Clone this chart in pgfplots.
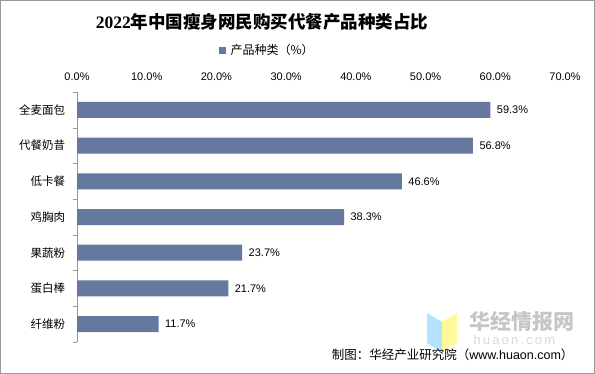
\documentclass[border=0pt]{standalone}
\usepackage{pgfplots}
\pgfplotsset{compat=1.18}
\usepackage{fontspec}
\setmainfont{Liberation Sans}
\newfontfamily\cjk{Noto Sans CJK SC}
\newfontfamily\serifnum{Liberation Serif}
\definecolor{barc}{RGB}{100,120,160}
\begin{document}
\begin{tikzpicture}
\path[use as bounding box] (0bp,0bp) rectangle (595bp,374bp);
\draw[gray!80, line width=1bp] (0.5bp,0.5bp) rectangle (594.5bp,373.5bp);
% watermark
\fill[blue!35!cyan!30] (427bp,61bp) -- (442bp,52bp) -- (442bp,22bp) -- (427bp,31bp) -- cycle;
\fill[yellow!40] (442bp,52bp) -- (457bp,61bp) -- (457bp,31bp) -- (442bp,22bp) -- cycle;
\node[text=gray!45, font=\cjk\bfseries\fontsize{21bp}{24bp}\selectfont, anchor=west] at (466bp,53bp) {华经情报网};
\node[text=gray!30, font=\fontsize{13bp}{15bp}\selectfont, anchor=west] at (470bp,34bp) {h\,u\,a\,o\,n\,.\,c\,o\,m};
\node[font=\fontsize{12.5bp}{15bp}\selectfont, anchor=east] at (577bp,19bp) {{\cjk 制图：华经产业研究院（}www.huaon.com{\cjk ）}};
% title
\node[font=\fontsize{17.5bp}{20bp}\selectfont] at (262bp,352bp) {{\serifnum\bfseries 2022}{\cjk\bfseries 年中国瘦身网民购买代餐产品种类占比}};
% legend
\fill[barc] (219bp,320bp) rectangle (226bp,327bp);
\node[font=\cjk\fontsize{12bp}{14bp}\selectfont, anchor=west] at (227bp,324bp) {产品种类（\%）};
\begin{axis}[
  at={(77bp,32bp)}, anchor=south west,
  scale only axis, width=488bp, height=250bp,
  xbar, bar width=16bp,
  xmin=0, xmax=70, ymin=-0.5, ymax=6.5,
  y dir=reverse,
  axis x line*=top, axis y line*=left,
  x axis line style={draw=none},
  y axis line style={draw=gray!80},
  xtick={0,10,...,70},
  xticklabel={\pgfmathprintnumber[fixed,fixed zerofill,precision=1]{\tick}\%},
  /pgf/number format/assume math mode=true,
  xticklabel style={font=\fontsize{11bp}{13bp}\selectfont, yshift=4bp},
  major x tick style={draw=none},
  ytick={0,...,6},
  yticklabels={全麦面包,代餐奶昔,低卡餐,鸡胸肉,果蔬粉,蛋白棒,纤维粉},
  yticklabel style={font=\cjk\fontsize{11.5bp}{14bp}\selectfont, xshift=-4bp},
  major y tick style={draw=none},
  minor ytick={-0.5,0.5,...,6.5},
  minor y tick style={draw=gray!80},
  minor tick length=4bp,
  tick align=outside,
  nodes near coords={\pgfmathprintnumber[fixed,fixed zerofill,precision=1]{\pgfplotspointmeta}\%},
  nodes near coords style={font=\fontsize{11bp}{12bp}\selectfont, xshift=3bp},
  point meta=x,
]
\addplot[fill=barc, draw=none] coordinates {
(59.3,0) (56.8,1) (46.6,2) (38.3,3) (23.7,4) (21.7,5) (11.7,6)
};
\end{axis}
\end{tikzpicture}
\end{document}
